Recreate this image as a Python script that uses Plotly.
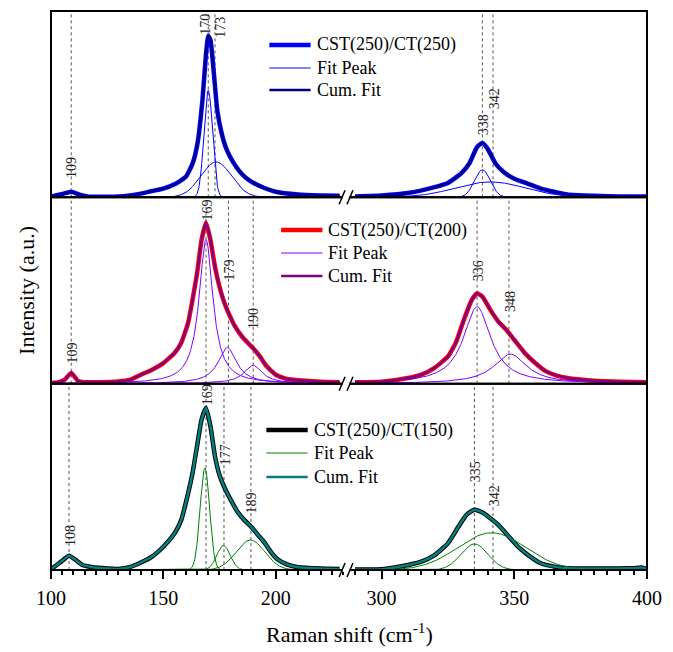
import numpy as np
import plotly.graph_objects as go
from plotly.subplots import make_subplots

FONT = "Liberation Serif, Times New Roman, serif"

# ---------------- data (intensities normalised to panel height) -------------
# Panel 1: CST(250)/CT(250)
p1_left_x = [100, 105, 109, 112, 116, 125, 130, 135, 140, 145, 150, 155, 160, 163, 165.2, 167.4, 168.9,
             170, 171, 172.5, 174, 176, 178.3, 181, 184, 187, 190, 195, 200, 210, 220, 228.5]
p1_left_y = [0.004, 0.018, 0.03, 0.018, 0.005, 0.003, 0.004, 0.01, 0.02, 0.034, 0.047, 0.07, 0.11, 0.181,
             0.289, 0.52, 0.754, 0.867, 0.844, 0.665, 0.468, 0.342, 0.253, 0.19, 0.138, 0.102, 0.078, 0.05, 0.03,
             0.015, 0.01, 0.008]
p1_right_x = [290, 300, 310, 320, 325, 330, 333, 336, 338, 340, 343, 346, 350, 355, 360, 365, 370, 380, 390, 400]
p1_right_y = [0.005, 0.01, 0.023, 0.055, 0.077, 0.128, 0.18, 0.27, 0.292, 0.26, 0.18, 0.136, 0.1, 0.074,
              0.047, 0.03, 0.015, 0.008, 0.005, 0.005]
p1_fit_center = [170, 173.5, 338, 341]
p1_fit_height = [0.575, 0.19, 0.148, 0.083]
p1_fit_fwhm = [4.5, 16, 7, 31]
p1_peak_labels = ["109", "170", "173", "338", "342"]
p1_peak_pos = [109, 170, 173, 338, 342]
p1_label_y = [0.102, 0.871, 0.859, 0.333, 0.47]

# Panel 2: CST(250)/CT(200)
p2_left_x = [100, 104, 106, 109, 112, 115, 120, 130, 135, 140, 145, 150, 155, 158, 161, 163, 165, 167, 169,
             171, 173, 175, 177, 179, 182, 185, 188, 190, 193, 196, 200, 205, 210, 220, 228.5]
p2_left_y = [0.004, 0.01, 0.02, 0.057, 0.015, 0.008, 0.008, 0.012, 0.02, 0.048, 0.075, 0.11, 0.165, 0.22,
             0.325, 0.45, 0.59, 0.77, 0.865, 0.77, 0.627, 0.52, 0.44, 0.38, 0.306, 0.253, 0.214, 0.19, 0.146,
             0.093, 0.048, 0.025, 0.018, 0.01, 0.008]
p2_right_x = [290, 300, 310, 315, 320, 325, 328, 331, 334, 336, 338, 341, 344, 347, 350, 354, 358, 362, 366,
              370, 380, 390, 400]
p2_right_y = [0.007, 0.01, 0.03, 0.048, 0.085, 0.146, 0.22, 0.342, 0.449, 0.485, 0.467, 0.396, 0.333, 0.289,
              0.235, 0.164, 0.11, 0.066, 0.043, 0.03, 0.016, 0.01, 0.008]
p2_fit_center = [169, 178.5, 190, 336, 348.5]
p2_fit_height = [0.774, 0.194, 0.098, 0.413, 0.159]
p2_fit_fwhm = [7.5, 10, 10, 12.5, 15]
p2_peak_labels = ["109", "169", "179", "190", "336", "348"]
p2_peak_pos = [109, 169, 179, 190, 336, 348]
p2_label_y = [0.107, 0.873, 0.553, 0.292, 0.547, 0.387]

# Panel 3: CST(250)/CT(150)
p3_left_x = [100, 104, 108, 111, 114, 118, 125, 130, 135, 140, 145, 150, 155, 158, 161, 163, 165, 167, 169,
             171, 173, 175, 177, 180, 183, 186, 189, 192, 195, 198, 201, 205, 210, 220, 228.5]
p3_left_y = [0.004, 0.04, 0.077, 0.054, 0.027, 0.016, 0.008, 0.006, 0.015, 0.04, 0.072, 0.125, 0.197, 0.269,
             0.41, 0.52, 0.663, 0.806, 0.869, 0.77, 0.61, 0.51, 0.448, 0.376, 0.313, 0.269, 0.233, 0.19, 0.148,
             0.095, 0.056, 0.03, 0.015, 0.008, 0.006]
p3_right_x = [290, 300, 310, 315, 320, 325, 329, 332, 335, 338, 341, 344, 348, 352, 356, 360, 365, 370, 380,
              390, 395, 398, 400]
p3_right_y = [0.003, 0.004, 0.027, 0.045, 0.08, 0.143, 0.233, 0.296, 0.323, 0.308, 0.278, 0.242, 0.179, 0.117,
              0.072, 0.036, 0.018, 0.009, 0.008, 0.008, 0.01, 0.013, 0.005]
p3_fit_center = [168.5, 176.8, 188.8, 335, 341.5]
p3_fit_height = [0.547, 0.131, 0.161, 0.14, 0.2]
p3_fit_fwhm = [5, 7, 15, 12, 30]
p3_peak_labels = ["108", "169", "177", "189", "335", "342"]
p3_peak_pos = [108, 169, 177, 189, 335, 342]
p3_label_y = [0.131, 0.882, 0.565, 0.305, 0.47, 0.34]

series_names = ["CST(250)/CT(250)", "CST(250)/CT(200)", "CST(250)/CT(150)"]
legend_entries = ["Fit Peak", "Cum. Fit"]
left_range = [100, 230]
right_range = [290, 400]
left_ticks = [100, 150, 200]
right_ticks = [300, 350, 400]


def gauss(x, c, h, w):
    return h * np.exp(-4 * np.log(2) * ((x - c) / w) ** 2)


def lorentz(x, c, h, w):
    return h / (1 + 4 * ((x - c) / w) ** 2)


panels = [
    dict(name=series_names[0], lx=p1_left_x, ly=p1_left_y, rx=p1_right_x, ry=p1_right_y,
         fc=p1_fit_center, fh=p1_fit_height, fw=p1_fit_fwhm, shape=gauss,
         labels=p1_peak_labels, pos=p1_peak_pos, ly_lab=p1_label_y,
         cdata="#0000ff", cfit="#0000ff", ccum="#00008b", leg_x=273, leg_y=[45, 68, 90]),
    dict(name=series_names[1], lx=p2_left_x, ly=p2_left_y, rx=p2_right_x, ry=p2_right_y,
         fc=p2_fit_center, fh=p2_fit_height, fw=p2_fit_fwhm, shape=lorentz,
         labels=p2_peak_labels, pos=p2_peak_pos, ly_lab=p2_label_y,
         cdata="#ff0000", cfit="#8000ff", ccum="#800080", leg_x=285, leg_y=[230, 253, 276]),
    dict(name=series_names[2], lx=p3_left_x, ly=p3_left_y, rx=p3_right_x, ry=p3_right_y,
         fc=p3_fit_center, fh=p3_fit_height, fw=p3_fit_fwhm, shape=gauss,
         labels=p3_peak_labels, pos=p3_peak_pos, ly_lab=p3_label_y,
         cdata="#000000", cfit="#008000", ccum="#008080", leg_x=270, leg_y=[430, 453, 477]),
]

fig = make_subplots(rows=3, cols=2, horizontal_spacing=0.02, vertical_spacing=0.0)

L, R, T, B = 51, 657, 11, 570
W, H = R - L, B - T

grid_l = np.linspace(100, 228.5, 700)
grid_r = np.linspace(290, 400, 600)
label_shift = {"170": -3, "173": 6}
SM = 0.45
W_DATA, W_FIT, W_CUM = 4.5, 1, 2.5

for i, p in enumerate(panels):
    row = i + 1
    # measured spectrum
    fig.add_trace(go.Scatter(x=p["lx"], y=p["ly"], mode="lines", name=p["name"], showlegend=False,
                             line=dict(color=p["cdata"], width=W_DATA, shape="spline", smoothing=SM)),
                  row=row, col=1)
    fig.add_trace(go.Scatter(x=p["rx"], y=p["ry"], mode="lines", name=p["name"], showlegend=False,
                             line=dict(color=p["cdata"], width=W_DATA, shape="spline", smoothing=SM)),
                  row=row, col=2)
    # fit peaks
    for c, h, w in zip(p["fc"], p["fh"], p["fw"]):
        if c < 260:
            g, col = grid_l, 1
        else:
            g, col = grid_r, 2
        fig.add_trace(go.Scatter(x=g, y=p["shape"](g, c, h, w), mode="lines", name="Fit Peak",
                                 showlegend=False, line=dict(color=p["cfit"], width=W_FIT)),
                      row=row, col=col)
    # cumulative fit
    fig.add_trace(go.Scatter(x=p["lx"], y=p["ly"], mode="lines", name="Cum. Fit", showlegend=False,
                             line=dict(color=p["ccum"], width=W_CUM, shape="spline", smoothing=SM)),
                  row=row, col=1)
    fig.add_trace(go.Scatter(x=p["rx"], y=p["ry"], mode="lines", name="Cum. Fit", showlegend=False,
                             line=dict(color=p["ccum"], width=W_CUM, shape="spline", smoothing=SM)),
                  row=row, col=2)
    # dotted peak lines and labels
    for lab, xp, yl in zip(p["labels"], p["pos"], p["ly_lab"]):
        col = 1 if xp < 260 else 2
        ax_idx = (row - 1) * 2 + col
        xr = "x" if ax_idx == 1 else f"x{ax_idx}"
        yr = "y" if ax_idx == 1 else f"y{ax_idx}"
        fig.add_shape(type="line", xref=xr, yref=f"{yr} domain", x0=xp, x1=xp, y0=0, y1=1,
                      line=dict(color="#555555", width=1, dash="dot"), layer="below")
        fig.add_annotation(x=xp, y=yl, xref=xr, yref=yr, text=lab, showarrow=False, textangle=-90,
                           xanchor="center", yanchor="bottom", xshift=label_shift.get(lab, 1), yshift=-2,
                           font=dict(family=FONT, size=14, color="#222222"))
    # legend (sample line + text)
    texts = [p["name"]] + legend_entries
    colors = [p["cdata"], p["cfit"], p["ccum"]]
    widths = [W_DATA, W_FIT, W_CUM]
    for t, c, w, ypx in zip(texts, colors, widths, p["leg_y"]):
        yp = (B - ypx) / H
        fig.add_shape(type="line", xref="paper", yref="paper", x0=(p["leg_x"] - L) / W,
                      x1=(p["leg_x"] + 42 - L) / W, y0=yp, y1=yp, line=dict(color=c, width=w))
        fig.add_annotation(x=(p["leg_x"] + 46 - L) / W, y=yp, xref="paper", yref="paper", text=t,
                           showarrow=False, xanchor="left", yanchor="middle",
                           font=dict(family=FONT, size=18, color="black"))

# axes
for ax_idx in range(1, 7):
    xa = "xaxis" if ax_idx == 1 else f"xaxis{ax_idx}"
    ya = "yaxis" if ax_idx == 1 else f"yaxis{ax_idx}"
    is_left = ax_idx % 2 == 1
    bottom = ax_idx >= 5
    xcfg = dict(range=left_range if is_left else right_range, showgrid=False, zeroline=False,
                showline=False)
    if bottom:
        xcfg.update(ticks="outside", ticklen=8, tickwidth=1.5, tickcolor="black",
                    tickvals=left_ticks if is_left else right_ticks, ticklabelstandoff=2,
                    tickfont=dict(family=FONT, size=20, color="black"),
                    minor=dict(dtick=5, ticks="outside", ticklen=4, tickwidth=1.5, tickcolor="black"))
    else:
        xcfg.update(showticklabels=False, ticks="")
    fig.layout[xa].update(xcfg)
    fig.layout[ya].update(dict(range=[0, 1], showgrid=False, zeroline=False, showline=False,
                               showticklabels=False, ticks=""))

# panel frames
for k in range(3):
    y0 = k / 3
    fig.add_shape(type="rect", xref="paper", yref="paper", x0=0, x1=1, y0=y0, y1=y0 + 1 / 3,
                  line=dict(color="black", width=2), layer="above")
# axis break marks
for k in range(3):
    yb = k / 3
    dy = 7 / H
    fig.add_shape(type="rect", xref="paper", yref="paper", x0=(347.5 - L) / W, x1=(354.5 - L) / W,
                  y0=yb - 2 / H, y1=yb + 2 / H, fillcolor="white", line=dict(width=0), layer="above")
    for xs in (344, 352):
        fig.add_shape(type="line", xref="paper", yref="paper", x0=(xs - L) / W, x1=(xs + 6 - L) / W,
                      y0=yb - dy, y1=yb + dy, line=dict(color="black", width=1.5), layer="above")

# axis titles
fig.add_annotation(x=0.5, y=(B - 633) / H, xref="paper", yref="paper", showarrow=False,
                   text="Raman shift (cm<sup>-1</sup>)", yanchor="middle",
                   font=dict(family=FONT, size=22, color="black"))
fig.add_annotation(x=(26 - L) / W, y=0.5, xref="paper", yref="paper", showarrow=False,
                   text="Intensity (a.u.)", textangle=-90, xanchor="center",
                   font=dict(family=FONT, size=22, color="black"))

fig.update_layout(
    width=673, height=652,
    margin=dict(l=L, r=673 - R, t=T, b=652 - B),
    paper_bgcolor="white", plot_bgcolor="white",
    showlegend=False,
)

fig.write_html("out.html")
